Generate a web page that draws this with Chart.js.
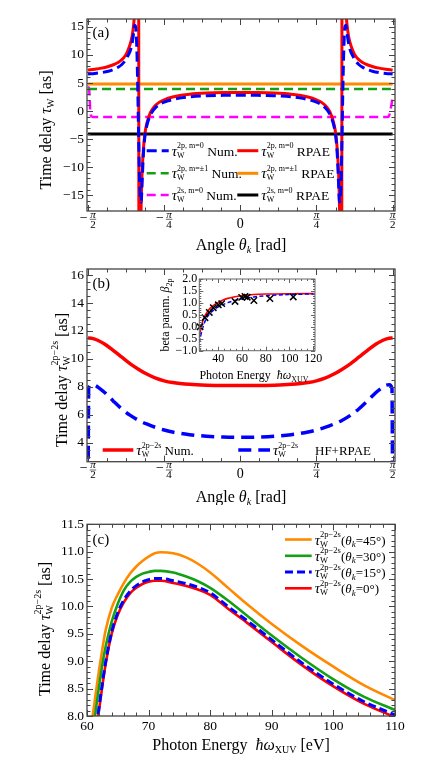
<!DOCTYPE html>
<html>
<head>
<meta charset="utf-8">
<script src="https://cdn.jsdelivr.net/npm/chart.js@4.4.1/dist/chart.umd.min.js"></script>
<style>
  html, body { margin: 0; padding: 0; background: #fff; }
  #wrap { position: relative; width: 436px; height: 766px; overflow: hidden; }
  canvas { position: absolute; left: 0; }
</style>
</head>
<body>
<div id="wrap">
  <canvas id="chartA" width="436" height="255" style="top:0"></canvas>
  <canvas id="chartB" width="436" height="250" style="top:255px"></canvas>
  <canvas id="chartC" width="436" height="261" style="top:505px"></canvas>
  <canvas id="chartIn" width="185" height="115" style="top:268px;left:140px"></canvas>
</div>
<script>
/* ------------------------------
  Data
---------------------------------*/

// (a) Wigner delay vs emission angle, angle in degrees
const angRpae = [-90,-86,-82,-78,-75,-72,-70,-68,-66.5,-65,-64,-63,-62.2,-61.4,-60.8,-60.3,-59.7,-59.2,-58.7,-58.2,-57.5,-56.5,-55,-53,-51,-48,-45,-40,-35,-30,-20,-10,
  0,
  10,20,30,35,40,45,48,51,53,55,56.5,57.5,58.2,58.7,59.2,59.7,60.3,60.8,61.4,62.2,63,64,65,66.5,68,70,72,75,78,82,86,90];
const rpaeM0 = [7.3,7.45,7.65,7.95,8.25,8.7,9.15,9.85,10.75,12.0,13.3,15.5,18.9,26,40,90,-90,-33,-18.5,-12.2,-7.8,-4.3,-1.9,-0.2,0.75,1.55,2.0,2.5,2.8,3.0,3.2,3.3,
  3.32,
  3.3,3.2,3.0,2.8,2.5,2.0,1.55,0.75,-0.2,-1.9,-4.3,-7.8,-12.2,-18.5,-33,-90,90,40,26,18.9,15.5,13.3,12.0,10.75,9.85,9.15,8.7,8.25,7.95,7.65,7.45,7.3];

const angNum = [-90,-86,-82,-78,-75,-72,-70,-68,-66.5,-65,-64,-63.2,-62.4,-61.8,-61.2,-60.6,-60,-59.4,-58.6,-58,-57.3,-56.5,-55.5,-54,-52,-50,-48,-45,-40,-35,-30,-20,-10,
  0,
  10,20,30,35,40,45,48,50,52,54,55.5,56.5,57.3,58,58.6,59.4,60,60.6,61.2,61.8,62.4,63.2,64,65,66.5,68,70,72,75,78,82,86,90];
const numM0 = [6.6,6.7,6.85,7.1,7.4,7.85,8.3,9.0,9.8,10.8,12.0,13.6,15.3,15.0,11.5,4.0,-6.0,-13.5,-16.2,-12.5,-7.8,-4.8,-2.9,-1.3,-0.1,0.65,1.15,1.6,2.05,2.35,2.55,2.72,2.8,
  2.82,
  2.8,2.72,2.55,2.35,2.05,1.6,1.15,0.65,-0.1,-1.3,-2.9,-4.8,-7.8,-12.5,-16.2,-13.5,-6.0,4.0,11.5,15.0,15.3,13.6,12.0,10.8,9.8,9.0,8.3,7.85,7.4,7.1,6.85,6.7,6.6];

const angM1 = [-90, 88.5, 89.5, 90];
const numM1 = [3.95, 3.95, 4.05, 4.35];
const angFlat = [-90, 90];
const rpaeM1 = [4.8, 4.8];
const ang2s = [-90, -89.4, -89, -88.6, -88, -87, 87, 87.8, 88.4, 88.9, 89.5, 90];
const num2s = [4.3, 4.1, 2.0, -0.3, -0.9, -1.05, -1.05, -0.9, -0.3, 0.5, 1.5, 3.0];
const rpae2s = [-4.1, -4.1];

// (b) 2p-2s delay vs angle
const angNum2 = [-90,-88,-86,-84,-80,-75,-70,-65,-60,-55,-50,-45,-40,-30,-20,-10,0,10,20,30,40,45,50,55,60,65,70,75,80,84,86,88,90];
const num2p2s = [11.5,11.48,11.42,11.32,11.05,10.6,10.12,9.65,9.25,8.9,8.62,8.43,8.31,8.18,8.12,8.1,8.1,8.1,8.12,8.18,8.31,8.43,8.62,8.9,9.25,9.65,10.12,10.6,11.05,11.32,11.42,11.48,11.5];
const angHf = [-90,-89.6,-88,-86,-84,-80,-75,-70,-65,-60,-55,-50,-45,-40,-30,-20,-10,0,10,20,30,40,45,50,55,60,65,70,75,80,84,86,88,89.6,90];
const hf2p2s = [0,7.9,8.15,8.12,7.97,7.58,6.98,6.42,5.96,5.6,5.33,5.1,4.92,4.77,4.58,4.47,4.41,4.39,4.41,4.47,4.58,4.77,4.92,5.1,5.33,5.6,5.96,6.42,6.98,7.58,7.97,8.12,8.15,7.9,0];

// (b) inset: beta parameter vs photon energy
const energyB = [24,25,26,27,28,30,33,36,40,44,48,53,61,70,80,100,121.5];
const betaRpae = [-0.45,-0.15,0.08,0.25,0.38,0.57,0.77,0.9,1.02,1.12,1.19,1.25,1.31,1.35,1.37,1.385,1.39];
const betaHf = [-0.65,-0.42,-0.2,-0.02,0.13,0.35,0.56,0.7,0.83,0.93,1.01,1.09,1.18,1.25,1.3,1.35,1.38];
const betaE = [24.6,28.8,32.4,35.8,40,42.9,54.1,59.7,62.5,64.4,70,83.5,103.2];
const betaExp = [0.0,0.38,0.6,0.8,0.92,0.97,1.06,1.23,1.27,1.24,1.1,1.18,1.25];

// (c) 2p-2s delay vs photon energy, eV
const energy = [60.5,61,61.5,62,62.5,63,64,65,66,67,68,69,70,71,72,74,76,78,80,83,86,90,95,100,105,110];
const deg0 = [6.9,7.3,7.72,8.15,8.55,8.93,9.5,9.85,10.08,10.24,10.34,10.41,10.45,10.47,10.47,10.43,10.38,10.31,10.21,9.95,9.7,9.35,8.92,8.54,8.22,7.98];
const deg15 = [6.95,7.35,7.78,8.2,8.6,8.97,9.53,9.89,10.12,10.28,10.38,10.45,10.49,10.51,10.51,10.47,10.42,10.35,10.25,9.99,9.74,9.39,8.96,8.58,8.26,8.02];
const deg30 = [7.35,7.75,8.17,8.57,8.95,9.25,9.72,10.05,10.3,10.45,10.54,10.6,10.63,10.65,10.65,10.62,10.55,10.46,10.34,10.1,9.83,9.47,9.05,8.67,8.35,8.11];
const deg45 = [7.72,8.07,8.48,8.87,9.23,9.55,9.97,10.22,10.43,10.6,10.73,10.83,10.91,10.97,10.99,10.97,10.9,10.78,10.62,10.33,10.04,9.68,9.27,8.9,8.56,8.29];

// tick labels
const angTicks = [-90, -45, 0, 45, 90];
const angTickLabels = ['−π/2', '−π/4', '0', 'π/4', 'π/2'];
const ticksA = [-15, -10, -5, 0, 5, 10, 15];
const ticksB = [4, 6, 8, 10, 12, 14, 16];
const ticksCx = [60, 70, 80, 90, 100, 110];
const ticksCy = [8, 8.5, 9, 9.5, 10, 10.5, 11, 11.5];
const ticksInX = [40, 60, 80, 100, 120];
const ticksInY = [-1, -0.5, 0, 0.5, 1, 1.5, 2];

/* ------------------------------
  Helpers
---------------------------------*/
const SERIF = '"Liberation Serif", "Times New Roman", Times, serif';
const RED = '#ff0000', BLUE = '#0000ff', GREEN = '#14a014', ORANGE = '#ff8a00', MAGENTA = '#ff00ff';

function fnt(sz, it) { return (it ? 'italic ' : '') + sz + 'px ' + SERIF; }
const T = (t, sz, it, dy) => ({ t: t, sz: sz, it: !!it, dy: dy || 0 });
const SS = (sub, sup, sz, up, down) => ({ sub: sub, sup: sup, sz: sz, up: up, down: down });
const fmt0 = v => (v < -1e-9 ? '−' : '') + Math.abs(v).toFixed(0);
const fmt1 = v => (v < -1e-9 ? '−' : '') + Math.abs(v).toFixed(1);

function widthOf(ctx, p) {
  ctx.font = fnt(p.sz, p.it);
  if (p.t !== undefined) return ctx.measureText(p.t).width;
  return Math.max(ctx.measureText(p.sup || '').width, ctx.measureText(p.sub || '').width);
}

// draws a run of text pieces (with sub/superscripts) on a baseline
function rich(ctx, parts, x, y, align) {
  const ws = parts.map(p => widthOf(ctx, p));
  const total = ws.reduce((a, b) => a + b, 0);
  let cx = align === 'center' ? x - total / 2 : x;
  ctx.textAlign = 'left';
  ctx.textBaseline = 'alphabetic';
  ctx.fillStyle = '#000';
  parts.forEach((p, i) => {
    ctx.font = fnt(p.sz, p.it);
    if (p.t !== undefined) {
      ctx.fillText(p.t, cx, y + p.dy);
    } else {
      if (p.sup) ctx.fillText(p.sup, cx, y - p.up);
      if (p.sub) ctx.fillText(p.sub, cx, y + p.down);
    }
    cx += ws[i];
  });
  return total;
}

function richV(ctx, parts, x, y) {
  ctx.save();
  ctx.translate(x, y);
  ctx.rotate(-Math.PI / 2);
  rich(ctx, parts, 0, 0, 'center');
  ctx.restore();
}

const tauW = (sup, sz, ssz) => [T('τ', sz, true), SS('W', sup, ssz, 7.5, 2)];
const angleTitle = () => [T('Angle ', 16), T('θ', 16, true), T('k', 10, true, 3), T(' [rad]', 16)];

function legendRow(ctx, ds, x0, len, yc, parts) {
  ctx.save();
  ctx.strokeStyle = ds.borderColor;
  ctx.lineWidth = ds.borderWidth;
  ctx.setLineDash(ds.borderDash || []);
  ctx.lineCap = 'butt';
  ctx.beginPath();
  ctx.moveTo(x0, yc);
  ctx.lineTo(x0 + len, yc);
  ctx.stroke();
  ctx.restore();
  rich(ctx, parts, x0 + len + 3, yc + 5, 'left');
}

// -pi/2 style fraction labels under the angle axis
function piLabels(chart) {
  const ctx = chart.ctx, s = chart.scales.x, b = chart.chartArea.bottom;
  ctx.save();
  ctx.fillStyle = '#000';
  ctx.strokeStyle = '#000';
  angTicks.forEach((v, i) => {
    const lab = angTickLabels[i];
    const px = s.getPixelForValue(v);
    if (lab.indexOf('/') < 0) {
      ctx.font = fnt(14);
      ctx.textAlign = 'center';
      ctx.fillText(lab, px, b + 16.5);
      return;
    }
    const neg = lab[0] === '−';
    const pq = (neg ? lab.slice(1) : lab).split('/');
    ctx.font = fnt(14);
    const wm = neg ? ctx.measureText('−').width + 2 : 0;
    ctx.font = fnt(11, true);
    const wn = ctx.measureText(pq[0]).width;
    ctx.font = fnt(11);
    const wd = ctx.measureText(pq[1]).width;
    const wf = Math.max(wn, wd) + 1;
    const x0 = px - (wm + wf) / 2;
    if (neg) {
      ctx.textAlign = 'left';
      ctx.font = fnt(14);
      ctx.fillText('−', x0, b + 10.5);
    }
    const fc = x0 + wm + wf / 2;
    ctx.textAlign = 'center';
    ctx.font = fnt(11, true);
    ctx.fillText(pq[0], fc, b + 6.5);
    ctx.font = fnt(11);
    ctx.fillText(pq[1], fc, b + 16.5);
    ctx.lineWidth = 0.6;
    ctx.beginPath();
    ctx.moveTo(fc - wf / 2, b + 8.3);
    ctx.lineTo(fc + wf / 2, b + 8.3);
    ctx.stroke();
  });
  ctx.restore();
}

// Mathematica-like frame with inward ticks on all four sides
const frameTicks = {
  id: 'frameTicks',
  beforeDatasetsDraw(chart, args, o) {
    const a = chart.chartArea;
    chart.ctx.save();
    chart.ctx.fillStyle = '#fff';
    chart.ctx.fillRect(a.left, a.top, a.right - a.left, a.bottom - a.top);
    chart.ctx.restore();
  },
  afterDatasetsDraw(chart, args, o) {
    const ctx = chart.ctx, a = chart.chartArea;
    ctx.save();
    ctx.strokeStyle = o.color || '#444';
    ctx.lineWidth = 1;
    [['x', o.xMinor], ['y', o.yMinor]].forEach(([id, step]) => {
      const s = chart.scales[id];
      const marks = s.ticks.map(t => [t.value, o.major]);
      for (let k = Math.ceil(s.min / step - 1e-6); k * step <= s.max + 1e-6; k++) marks.push([k * step, o.minor]);
      marks.forEach(([v, len]) => {
        const p = Math.round(s.getPixelForValue(v)) + 0.5;
        ctx.beginPath();
        if (id === 'x') {
          ctx.moveTo(p, a.bottom); ctx.lineTo(p, a.bottom - len);
          ctx.moveTo(p, a.top); ctx.lineTo(p, a.top + len);
        } else {
          ctx.moveTo(a.left, p); ctx.lineTo(a.left + len, p);
          ctx.moveTo(a.right, p); ctx.lineTo(a.right - len, p);
        }
        ctx.stroke();
      });
    });
    ctx.lineWidth = o.width || 1.3;
    ctx.strokeRect(a.left, a.top, a.right - a.left, a.bottom - a.top);
    ctx.restore();
  }
};
Chart.register(frameTicks);

function pts(xs, ys) { return xs.map((x, i) => ({ x: x, y: ys[i] })); }

function line(xs, ys, color, width, dash) {
  return { data: pts(xs, ys), borderColor: color, borderWidth: width, borderDash: dash || [], pointRadius: 0, fill: false, clip: 0 };
}

function opts(o) {
  return {
    responsive: false,
    animation: false,
    devicePixelRatio: 1,
    events: [],
    layout: { autoPadding: false, padding: { top: o.top, right: o.right, left: 0, bottom: 0 } },
    elements: {
      point: { radius: 0 },
      line: { cubicInterpolationMode: 'monotone', borderJoinStyle: 'round', borderCapStyle: 'butt' }
    },
    plugins: { legend: { display: false }, tooltip: { enabled: false }, frameTicks: o.frame },
    scales: {
      x: {
        type: 'linear', min: o.xmin, max: o.xmax,
        grid: { display: false, drawTicks: false }, border: { display: false },
        ticks: { display: o.xLabels, autoSkip: false, maxRotation: 0, font: { family: SERIF, size: o.fs }, color: '#000', padding: o.xpad || 3, callback: o.xfmt || fmt0 },
        afterBuildTicks: s => { s.ticks = o.xticks.map(v => ({ value: v })); },
        afterFit: s => { s.height = o.xh; }
      },
      y: {
        type: 'linear', min: o.ymin, max: o.ymax,
        grid: { display: false, drawTicks: false }, border: { display: false },
        ticks: { autoSkip: false, font: { family: SERIF, size: o.fs }, color: '#000', padding: o.ypad || 3, callback: o.yfmt },
        afterBuildTicks: s => { s.ticks = o.yticks.map(v => ({ value: v })); },
        afterFit: s => { s.width = o.yw; }
      }
    }
  };
}

/*------------------------------------
* (a)
------------------------------------ */
new Chart(document.getElementById('chartA'), {
  type: 'line',
  data: {
    datasets: [
      line(angNum, numM0, BLUE, 3, [10, 5]),
      line(angRpae, rpaeM0, RED, 3),
      line(angM1, numM1, GREEN, 2.5, [9, 5]),
      line(angFlat, rpaeM1, ORANGE, 3),
      line(ang2s, num2s, MAGENTA, 2.5, [9, 5]),
      line(angFlat, rpae2s, '#000', 3)
    ]
  },
  options: opts({ top: 19, right: 41, xmin: -90.6, xmax: 91.4, ymin: -17.8, ymax: 16.4, xticks: angTicks, yticks: ticksA,
    xh: 44, yw: 87, xLabels: false, fs: 13.5, yfmt: fmt0, frame: { xMinor: 11.25, yMinor: 1, major: 6, minor: 3.5 } }),
  plugins: [{
    id: 'decorA',
    afterDraw(chart) {
      const ctx = chart.ctx, ds = chart.data.datasets;
      piLabels(chart);
      rich(ctx, [T('(a)', 15)], 92.5, 36.5);
      richV(ctx, [T('Time delay ', 16), T('τ', 16, true), T('W', 10, false, 3), T(' [as]', 16)], 51, 130);
      rich(ctx, angleTitle(), 241, 249.5, 'center');
      const rows = [[0, 1, '2p, m=0'], [2, 3, '2p, m=±1'], [4, 5, '2s, m=0']];
      const ys = [150.7, 173.3, 195];
      rows.forEach((r, i) => {
        legendRow(ctx, ds[r[0]], 146.7, 22, ys[i], tauW(r[2], 15, 8).concat([T(' Num.', 13.5)]));
        legendRow(ctx, ds[r[1]], 237.3, 21, ys[i], tauW(r[2], 15, 8).concat([T(' RPAE', 13.5)]));
      });
    }
  }]
});

/*------------------------------------
* (b)
------------------------------------ */
new Chart(document.getElementById('chartB'), {
  type: 'line',
  data: {
    datasets: [
      line(angHf, hf2p2s, BLUE, 3.5, [13, 7]),
      line(angNum2, num2p2s, RED, 3.5)
    ]
  },
  options: opts({ top: 14, right: 41, xmin: -90.6, xmax: 91.4, ymin: 2.65, ymax: 16.43, xticks: angTicks, yticks: ticksB,
    xh: 43.3, yw: 87, xLabels: false, fs: 13.5, yfmt: fmt0, frame: { xMinor: 11.25, yMinor: 0.5, major: 6, minor: 3.5 } }),
  plugins: [{
    id: 'decorB',
    afterDraw(chart) {
      const ctx = chart.ctx, ds = chart.data.datasets;
      piLabels(chart);
      rich(ctx, [T('(b)', 15)], 92.5, 32.5);
      richV(ctx, [T('Time delay ', 16), T('τ', 16, true), SS('W', '2p−2s', 10, 9, 3), T(' [as]', 16)], 67, 125);
      rich(ctx, angleTitle(), 241, 246.5, 'center');
      legendRow(ctx, ds[1], 102.7, 30.6, 195, tauW('2p−2s', 15, 8).concat([T(' Num.', 13)]));
      legendRow(ctx, ds[0], 238.3, 31.7, 195, tauW('2p−2s', 15, 8));
      rich(ctx, [T('HF+RPAE', 13)], 315, 200);
    }
  }]
});

/*------------------------------------
* (b) inset
------------------------------------ */
new Chart(document.getElementById('chartIn'), {
  type: 'line',
  data: {
    datasets: [
      { data: pts(betaE, betaExp), showLine: false, pointStyle: 'crossRot', pointRadius: 4.5, borderColor: '#000', backgroundColor: '#000', pointBorderWidth: 1.5, clip: false },
      line(energyB, betaHf, BLUE, 1.5, [4, 2.5]),
      line(energyB, betaRpae, RED, 1.6)
    ]
  },
  options: opts({ top: 11, right: 10, xmin: 24, xmax: 121.5, ymin: -1, ymax: 2, xticks: ticksInX, yticks: ticksInY,
    xh: 32.3, yw: 59.3, xLabels: true, fs: 12, xpad: 1, ypad: 2, xfmt: fmt0, yfmt: fmt1,
    frame: { xMinor: 5, yMinor: 0.1, major: 4, minor: 2, color: '#666', width: 1 } }),
  plugins: [{
    id: 'decorIn',
    afterDraw(chart) {
      const ctx = chart.ctx;
      richV(ctx, [T('beta param. ', 12), T('β', 12, true), T('2p', 8, false, 2.5)], 29, 47);
      rich(ctx, [T('Photon Energy  ', 12), T('ħω', 12, true), T('XUV', 8, false, 2.5)], 114, 111, 'center');
    }
  }]
});

/*------------------------------------
* (c)
------------------------------------ */
new Chart(document.getElementById('chartC'), {
  type: 'line',
  data: {
    datasets: [
      line(energy, deg15, BLUE, 3, [8, 4]),
      line(energy, deg0, RED, 2.6),
      line(energy, deg30, GREEN, 2.6),
      line(energy, deg45, ORANGE, 2.6)
    ]
  },
  options: opts({ top: 19.3, right: 41, xmin: 60, xmax: 110, ymin: 8, ymax: 11.5, xticks: ticksCx, yticks: ticksCy,
    xh: 50, yw: 87, xLabels: true, fs: 13.5, xpad: 2, xfmt: fmt0, yfmt: fmt1,
    frame: { xMinor: 2, yMinor: 0.1, major: 6, minor: 3.5 } }),
  plugins: [{
    id: 'decorC',
    afterDraw(chart) {
      const ctx = chart.ctx, ds = chart.data.datasets;
      rich(ctx, [T('(c)', 15)], 92.5, 38.5);
      richV(ctx, [T('Time delay ', 16), T('τ', 16, true), SS('W', '2p−2s', 10, 9, 3), T(' [as]', 16)], 50, 124);
      rich(ctx, [T('Photon Energy  ', 16), T('ħω', 16, true), T('XUV', 10, false, 3), T(' [eV]', 16)], 241, 245, 'center');
      const order = [[3, '45°'], [2, '30°'], [0, '15°'], [1, '0°']];
      const ys = [34.5, 50.8, 67, 83.3];
      order.forEach((o, i) => {
        legendRow(ctx, ds[o[0]], 285, 26.7, ys[i],
          tauW('2p−2s', 15, 8.5).concat([T('(', 13), T('θ', 13, true), T('k', 9, true, 2.5), T('=' + o[1] + ')', 13)]));
      });
    }
  }]
});
</script>
</body>
</html>
